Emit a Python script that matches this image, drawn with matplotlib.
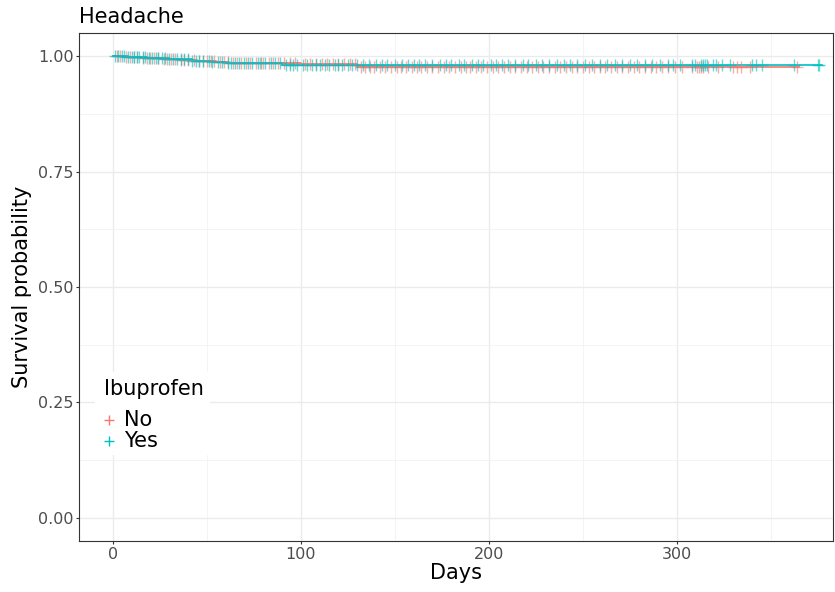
import numpy as np
import matplotlib
matplotlib.use("Agg")
import matplotlib.pyplot as plt
from matplotlib.patches import Rectangle
from matplotlib.ticker import MultipleLocator

title = "Headache"
legend_title = "Ibuprofen"
groups = ["No", "Yes"]
colors = {"No": "#F8766D", "Yes": "#00BFC4"}

# Kaplan-Meier step curves (event times and survival after each event)
no_times = [0, 5, 15, 25, 35, 45, 55, 62, 100, 130]
no_surv = [1.0, 0.998, 0.996, 0.994, 0.992, 0.990, 0.987, 0.984, 0.982, 0.977]
no_end = 365

yes_times = [0, 8, 18, 30, 42, 52, 60, 90]
yes_surv = [1.0, 0.998, 0.996, 0.993, 0.990, 0.987, 0.984, 0.981]
yes_end = 377

# censoring times
no_cens = [2, 4, 7, 9, 11, 13, 16, 18, 20, 22, 24, 27, 29, 31, 33, 36, 38, 40, 43, 46, 48, 50,
           52, 54, 57, 59, 61, 64, 66, 68, 71, 73, 76, 78, 80, 83, 85, 88, 91, 94, 97, 102,
           105, 108, 111, 114, 117, 120, 123, 126, 129, 132, 134, 137, 139, 142, 145, 148,
           151, 153, 156, 159, 162, 164, 167, 170, 173, 176, 179, 182, 185, 188, 190, 193,
           196, 199, 202, 205, 208, 211, 214, 217, 220, 223, 226, 229, 232, 235, 238, 241,
           244, 247, 250, 253, 256, 259, 262, 265, 268, 271, 274, 277, 280, 283, 286, 289,
           292, 295, 299, 302.7, 308, 310.6, 311.7, 312.8, 314, 316.5, 322, 330, 332, 334,
           339, 364]
yes_cens = [1, 3, 5, 6, 8, 10, 11, 13, 14, 16, 17, 19, 21, 23, 24, 26, 28, 30, 32, 34, 36,
            38, 40, 42, 44, 46, 48, 51, 53, 56, 58, 61, 63, 65, 67, 70, 72, 74, 77, 79, 81,
            84, 86, 89, 92, 94, 96, 98, 101, 103, 106, 108, 110, 113, 115, 118, 120, 122,
            125, 127, 130, 133, 136, 140, 143, 146, 150, 154, 157, 160, 163, 166, 170, 174,
            177, 180, 184, 187, 191, 194, 197, 201, 204, 207, 210, 214, 218, 221, 225, 228,
            232, 236, 240, 243, 247, 251, 255, 259, 263, 267, 271, 275, 279, 283, 287, 291,
            295, 298, 301.6, 308, 309.6, 312.8, 313.8, 314.9, 316, 319, 321, 324, 328, 340,
            342, 345, 362, 375, 375.5]

x_ticks = [0, 100, 200, 300]
y_ticks = [0.0, 0.25, 0.50, 0.75, 1.00]
y_ticklabels = ["0.00", "0.25", "0.50", "0.75", "1.00"]

fig = plt.figure(figsize=(8.35, 5.92), dpi=100)
ax = fig.add_axes([0.0946, 0.0861, 0.903, 0.8582])

def surv_at(times, surv, t):
    idx = np.searchsorted(times, t, side="right") - 1
    return np.asarray(surv)[idx]

for g, times, surv, end, cens in [("No", no_times, no_surv, no_end, no_cens),
                                  ("Yes", yes_times, yes_surv, yes_end, yes_cens)]:
    xs = list(times) + [end]
    ys = list(surv) + [surv[-1]]
    ax.step(xs, ys, where="post", color=colors[g], lw=1.2, zorder=3)
    ct = np.array(cens)
    ax.plot(ct, surv_at(times, surv, ct), ls="none", marker="+", ms=8, mew=1.0,
            color=colors[g], alpha=0.6, zorder=4)

ax.set_xlim(-18, 383)
ax.set_ylim(-0.05, 1.05)
ax.set_xticks(x_ticks)
ax.set_yticks(y_ticks)
ax.set_yticklabels(y_ticklabels)
ax.xaxis.set_minor_locator(MultipleLocator(50))
ax.yaxis.set_minor_locator(MultipleLocator(0.125))
ax.grid(which="major", color="#EBEBEB", lw=1.0, zorder=0)
ax.grid(which="minor", color="#F2F2F2", lw=0.6, zorder=0)
ax.set_axisbelow(True)
for s in ax.spines.values():
    s.set_color("#333333")
    s.set_linewidth(0.8)
ax.tick_params(axis="both", which="major", labelsize=11.5, labelcolor="#4D4D4D",
               color="#333333", length=2.5, width=0.8, pad=1.5)
ax.tick_params(axis="both", which="minor", length=0)
ax.set_xlabel("Days", fontsize=15, labelpad=1)
ax.set_ylabel("Survival probability", fontsize=15, labelpad=4)
ax.set_title(title, loc="left", fontsize=15, pad=7)

# legend drawn inside the panel
T = ax.transAxes
ax.add_patch(Rectangle((0.021, 0.169), 0.153, 0.164, transform=T, facecolor="white",
                       edgecolor="none", zorder=2))
ax.text(0.0332, 0.299, legend_title, transform=T, fontsize=15, ha="left", va="center", zorder=5)
for i, g in enumerate(groups):
    yy = 0.238 - i * 0.041
    ax.plot([0.0398], [yy], transform=T, ls="none", marker="+", ms=7, mew=1.0,
            color=colors[g], zorder=5, clip_on=False)
    ax.text(0.0597, yy, g, transform=T, fontsize=15, ha="left", va="center", zorder=5)

fig.savefig("out.png", dpi=100)
